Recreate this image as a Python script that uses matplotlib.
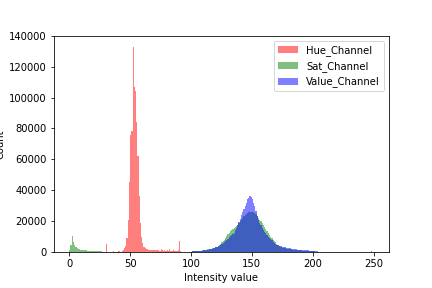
import numpy as np
import matplotlib
matplotlib.use("Agg")
import matplotlib.pyplot as plt

# ---- data: counts per integer intensity bin ----
hue_first_bin = 30
hue_counts = [
    5200, 0, 0, 0, 0, 0, 500, 0, 0, 0,                      # 30-39
    400, 600, 300, 800, 1200, 2500, 4000, 9000, 21000, 45000,  # 40-49
    76000, 78000, 133000, 107000, 104000, 84000, 62000, 36000, 19000, 10000,  # 50-59
    5800, 3500, 2500, 2000, 1700, 1500, 1400, 1300, 1200, 1500,  # 60-69
    1100, 1000, 1200, 1000, 900, 2200, 1000, 900, 1000, 900,     # 70-79
    1100, 900, 1700, 900, 800, 1500, 800, 900, 700, 1000,        # 80-89
    7000, 900,                                                   # 90-91
]

sat_first_bin = 0
sat_counts = [
    1500, 4500, 10400, 6500, 4500, 3500, 2800, 2200, 1800, 1600,  # 0-9
    1500, 1200, 1100, 1000, 1000, 900, 800, 800, 750, 700,        # 10-19
    700, 650, 650, 600, 600, 600, 400, 300, 300, 250,             # 20-29
    250, 200, 200, 200, 200, 150, 150, 150, 150, 150,             # 30-39
    150, 150, 150, 100, 100, 100, 100, 100, 100, 100,             # 40-49
    100, 100, 100, 100, 100, 100, 100, 100, 100, 100,             # 50-59
    100, 100, 100, 100, 100, 100, 100, 100, 100, 100,             # 60-69
    100, 100, 100, 100, 100, 100, 100, 100, 100, 100,             # 70-79
    100, 100, 100, 100, 100, 100, 100, 100, 100, 100,             # 80-89
    100, 100, 150, 150, 200, 200, 250, 250, 300, 300,             # 90-99
    300, 350, 400, 450, 500, 600, 700, 800, 900, 1000,            # 100-109
    1200, 1300, 1500, 1700, 1800, 2000, 2200, 2400, 2600, 2800,   # 110-119
    3000, 3500, 4000, 4700, 5500, 6200, 7000, 8000, 9000, 10200,  # 120-129
    11500, 12500, 13500, 14300, 15000, 15500, 16000, 16800, 17500, 18700,  # 130-139
    20000, 21000, 22000, 23000, 24000, 24800, 25500, 25800, 26000, 26000,  # 140-149
    26000, 25800, 25000, 24300, 23500, 22300, 21000, 19800, 18500, 17500,  # 150-159
    16500, 15000, 13500, 12200, 11000, 10000, 9000, 8000, 7000, 6200,      # 160-169
    5500, 4700, 4000, 3500, 3000, 2700, 2500, 2300, 2200, 2100,            # 170-179
    2000, 1850, 1700, 1600, 1500, 1400, 1300, 1200, 1100, 1050,            # 180-189
    1000, 950, 850, 800, 750, 700, 600, 550, 500, 450,                     # 190-199
    400, 350, 300, 250, 200, 150, 100, 100, 50, 50,                        # 200-209
]

val_first_bin = 90
val_counts = [
    100, 100, 150, 150, 200, 200, 250, 250, 300, 300,              # 90-99
    300, 350, 400, 450, 500, 600, 650, 700, 800, 900,              # 100-109
    1000, 1150, 1300, 1400, 1550, 1700, 1800, 2000, 2400, 2700,    # 110-119
    3000, 3300, 3700, 4100, 4500, 5000, 5600, 6300, 7000, 7800,    # 120-129
    8700, 9600, 10500, 11200, 11800, 12500, 14000, 15800, 17500, 19500,  # 130-139
    21500, 23800, 26000, 28000, 30000, 32000, 34000, 35200, 36000, 35500,  # 140-149
    34500, 32000, 29500, 26500, 23500, 21000, 19000, 17200, 15500, 14200,  # 150-159
    13000, 12000, 11000, 10000, 9200, 8300, 7500, 6700, 6000, 5300,        # 160-169
    4800, 4500, 4200, 3900, 3600, 3400, 3200, 3000, 2800, 2600,            # 170-179
    2500, 2300, 2200, 2000, 1900, 1800, 1700, 1600, 1500, 1450,            # 180-189
    1400, 1350, 1300, 1200, 1150, 1100, 1000, 900, 800, 750,               # 190-199
    700, 600, 500, 400, 300, 300, 250, 200, 150, 150,                      # 200-209
    100, 100, 100, 80, 80, 80, 60, 60, 60, 60,                             # 210-219
    50, 50, 50, 50, 50, 50, 50, 50, 50, 50,                                # 220-229
    50, 50, 50, 50, 50, 50, 50, 50, 50, 50,                                # 230-239
    50, 50, 50, 50, 50, 50, 50, 50, 600, 0,                                # 240-249
]

channels = ["Hue_Channel", "Sat_Channel", "Value_Channel"]
channel_colors = ["r", "g", "b"]
x_label = "Intensity value"
y_label = "Count"

edges = np.arange(0, 251)

fig = plt.figure(figsize=(6, 4), dpi=72)
ax = fig.add_subplot(111)
fig.subplots_adjust(left=0.125, right=0.9, bottom=0.125, top=0.876)

series = [(hue_first_bin, hue_counts), (sat_first_bin, sat_counts), (val_first_bin, val_counts)]
for (start, counts), name, col in zip(series, channels, channel_colors):
    centers = np.arange(start, start + len(counts)) + 0.5
    ax.hist(centers, bins=edges, weights=counts, color=col, alpha=0.5, label=name)

ax.set_xlim(-12.5, 262.5)
ax.set_ylim(0, 140000)
ax.set_yticks(np.arange(0, 140001, 20000))
ax.set_xlabel(x_label)
ax.set_ylabel(y_label)
ax.legend(loc="upper right")

fig.savefig("out.png", dpi=72)
